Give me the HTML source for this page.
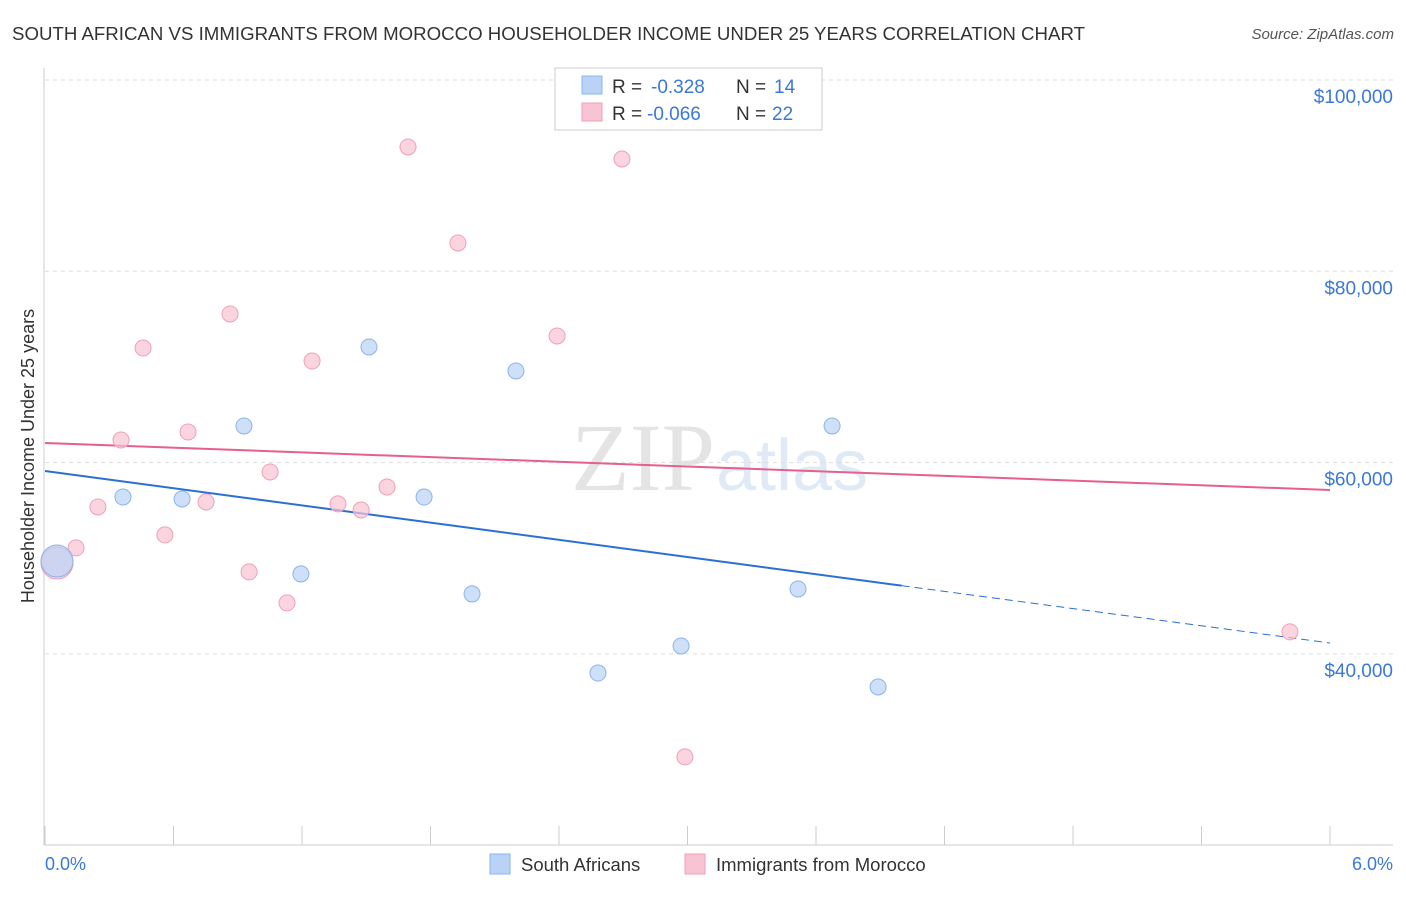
<!DOCTYPE html>
<html><head><meta charset="utf-8"><style>
body{margin:0;background:#fff;font-family:"Liberation Sans",sans-serif;}
</style></head><body>
<svg id="chart" width="1406" height="892" xmlns="http://www.w3.org/2000/svg">
<text x="12" y="40" font-size="18" fill="#333" textLength="1073" lengthAdjust="spacingAndGlyphs">SOUTH AFRICAN VS IMMIGRANTS FROM MOROCCO HOUSEHOLDER INCOME UNDER 25 YEARS CORRELATION CHART</text>
<text x="1394" y="39" font-size="15" fill="#555" font-style="italic" text-anchor="end">Source: ZipAtlas.com</text>
<text x="715" y="490" font-size="96" fill="#e4e4e4" font-family="Liberation Serif" text-anchor="end">ZIP</text>
<text x="716" y="490" font-size="72" fill="#e0eaf7">atlas</text>
<g id="grid"></g><g id="axes"></g><g id="trends"></g><g id="points"></g>
<text transform="translate(34,456) rotate(-90)" font-size="18" fill="#333" text-anchor="middle">Householder Income Under 25 years</text>
<text x="45" y="870" font-size="18" fill="#3b78d8">0.0%</text>
<text x="1393" y="870" font-size="18" fill="#3b78d8" text-anchor="end">6.0%</text>
<g>
<rect x="555" y="68" width="267" height="62" fill="#fff" stroke="#ccc"/>
<rect x="582" y="76" width="20" height="18" fill="#b8d3f5" stroke="#8ab4ee"/>
<rect x="582" y="103" width="20" height="18" fill="#f8c3d3" stroke="#f0a0b8"/>
<text x="612" y="93" font-size="19" fill="#333">R =</text>
<text x="651" y="93" font-size="19" fill="#3b78d8">-0.328</text>
<text x="736" y="93" font-size="19" fill="#333">N =</text>
<text x="774" y="93" font-size="19" fill="#3b78d8">14</text>
<text x="612" y="120" font-size="19" fill="#333">R =</text>
<text x="647" y="120" font-size="19" fill="#3b78d8">-0.066</text>
<text x="736" y="120" font-size="19" fill="#333">N =</text>
<text x="772" y="120" font-size="19" fill="#3b78d8">22</text>
</g>
<g>
<rect x="490" y="854" width="20" height="20" fill="#b8d3f5" stroke="#8ab4ee"/>
<text x="521" y="871" font-size="18.5" fill="#333">South Africans</text>
<rect x="685" y="854" width="20" height="20" fill="#f8c3d3" stroke="#f0a0b8"/>
<text x="716" y="871" font-size="18.5" fill="#333">Immigrants from Morocco</text>
</g>
</svg>
<script>
const yTicks=[40000,60000,80000,100000];
const yTickLabels=["$40,000","$60,000","$80,000","$100,000"];
const blueX=[0.056,0.364,0.640,0.929,1.195,1.513,1.770,1.994,2.199,2.582,2.970,3.516,3.675,3.890];
const blueY=[49710,56400,56200,63830,48360,72090,56400,46270,69580,38000,40830,46790,63830,36540];
const pinkX=[0.056,0.145,0.247,0.355,0.458,0.560,0.668,0.752,0.864,0.953,1.051,1.130,1.247,1.368,1.476,1.597,1.695,1.928,2.391,2.694,2.988,5.813];
const pinkY=[49500,51080,55360,62360,71980,52440,63200,55880,75540,48570,59020,45330,70620,55680,55050,57450,93000,82960,73240,91740,29230,42300];
const blueTrend=[59122,41140];
const pinkTrend=[62050,57135];
const xs=v=>45+v/6*1285;
const ys=v=>80+(100000-v)/20000*191.3;
const NS="http://www.w3.org/2000/svg";
function mk(t,a,p){const e=document.createElementNS(NS,t);for(const k in a)e.setAttribute(k,a[k]);document.getElementById(p).appendChild(e);return e;}
yTicks.forEach((t,i)=>{
 const l=mk('line',{x1:45,x2:1393,y1:ys(t),y2:ys(t),stroke:'#ddd','stroke-dasharray':'4,4'},'grid');
 
 
 const tx=mk('text',{x:1393,y:ys(t)+23,'font-size':19,fill:'#3b78d8','text-anchor':'end'},'grid');
 tx.textContent=yTickLabels[i];
 
 
});
mk('line',{x1:44,x2:44,y1:68,y2:845,stroke:'#ccc'},'axes');
const ax=mk('line',{x1:44,x2:1393,y1:845,y2:845,stroke:'#ccc'},'axes');


for(let i=0;i<=10;i++){const t=mk('line',{x1:xs(i*0.6),x2:xs(i*0.6),y1:826,y2:845,stroke:'#ccc'},'axes');
 
 }
const bxEnd=4.0;
const bAt=x=>blueTrend[0]+(blueTrend[1]-blueTrend[0])*x/6;
const b1=mk('line',{x1:xs(0),y1:ys(bAt(0)),x2:xs(bxEnd),y2:ys(bAt(bxEnd)),stroke:'#2a6fd6','stroke-width':2},'trends');


const b2=mk('line',{x1:xs(bxEnd),y1:ys(bAt(bxEnd)),x2:xs(6),y2:ys(bAt(6)),stroke:'#2a6fd6','stroke-width':1,'stroke-dasharray':'8,5'},'trends');


const p1=mk('line',{x1:xs(0),y1:ys(pinkTrend[0]),x2:xs(6),y2:ys(pinkTrend[1]),stroke:'#e5608a','stroke-width':2},'trends');


function pts(X,Y,fill,stroke,name){X.forEach((x,i)=>{const c=mk('circle',{cx:xs(x),cy:ys(Y[i]),r:i===0?16:8,fill:fill,'fill-opacity':0.7,stroke:stroke,'stroke-width':1},'points');
 
 });}
pts(pinkX,pinkY,'#f8c3d3','#f0a0b8','morocco-point');
pts(blueX,blueY,'#b8d3f5','#8ab4ee','south-africans-point');
</script>
</body></html>
